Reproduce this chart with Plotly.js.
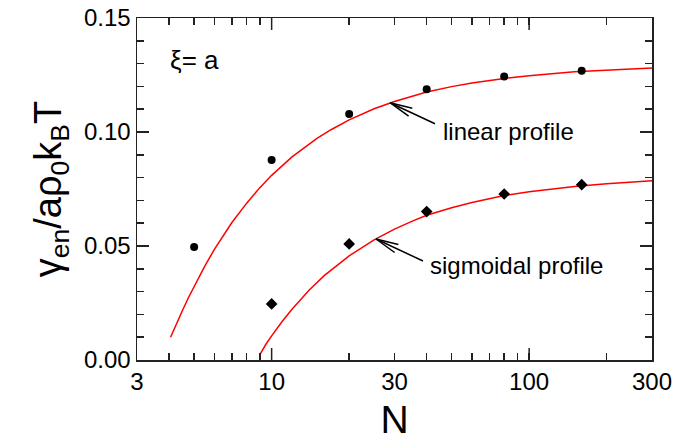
<!DOCTYPE html>
<html>
<head>
<meta charset="utf-8">
<script src="https://cdn.plot.ly/plotly-3.0.1.min.js"></script>
<style>html,body{margin:0;padding:0;background:#fff;}#chart{width:679px;height:441px;}</style>
</head>
<body>
<div id="chart"></div>
<script>
// Simulation points
var nLinear = [5, 10, 20, 40, 80, 160];
var gLinear = [0.0496, 0.0877, 0.1079, 0.1187, 0.1243, 0.1269];
var nSigmoid = [10, 20, 40, 80, 160];
var gSigmoid = [0.0246, 0.0509, 0.0651, 0.0728, 0.0769];

// Fitted curves
var nFitLinear = [4.05, 4.25, 4.5, 4.75, 5, 5.5, 6, 6.5, 7, 8, 9, 10, 12, 15, 17, 20, 25, 30, 40, 50, 60, 80, 100, 150, 200, 300];
var gFitLinear = [0.0100, 0.0155, 0.0216, 0.0273, 0.0324, 0.0412, 0.0486, 0.0548, 0.0602, 0.0688, 0.0756, 0.0810, 0.0891, 0.0972, 0.1010, 0.1053, 0.1102, 0.1134, 0.1175, 0.1199, 0.1215, 0.1235, 0.1247, 0.1264, 0.1272, 0.1281];
var nFitSigmoid = [9, 9.25, 9.5, 10, 10.5, 11, 12, 13, 14, 16, 18, 20, 25, 30, 35, 40, 50, 60, 80, 100, 150, 200, 300];
var gFitSigmoid = [0.0024, 0.0049, 0.0069, 0.0106, 0.0140, 0.0170, 0.0223, 0.0268, 0.0307, 0.0370, 0.0418, 0.0457, 0.0527, 0.0574, 0.0608, 0.0635, 0.0668, 0.0691, 0.0721, 0.0738, 0.0761, 0.0773, 0.0786];

// Axis ticks
var xTickVals = [3, 10, 30, 100, 300];
var xTickText = ['3', '10', '30', '100', '300'];
var xMinorVals = [4, 5, 6, 7, 8, 9, 20, 40, 50, 60, 70, 80, 90, 200];
var xLongTicks = [10, 100];
var yTickVals = [0, 0.05, 0.10, 0.15];

var FONT = 'Liberation Sans, Arial, Helvetica, sans-serif';
var AX = '#222';
var PW = 515, PH = 342; // plot area size in px, for arrow geometry

var traces = [
  {x: nFitLinear, y: gFitLinear, mode: 'lines', line: {color: '#ff0000', width: 1.5}, hoverinfo: 'skip'},
  {x: nFitSigmoid, y: gFitSigmoid, mode: 'lines', line: {color: '#ff0000', width: 1.5}, hoverinfo: 'skip'},
  {x: nLinear, y: gLinear, mode: 'markers', marker: {symbol: 'circle', size: 8, color: '#000'}},
  {x: nSigmoid, y: gSigmoid, mode: 'markers', marker: {symbol: 'diamond', size: 9, color: '#000'}}
];

var shapes = [];
xLongTicks.forEach(function (v) {
  shapes.push({type: 'line', xref: 'x', yref: 'paper', ysizemode: 'pixel', yanchor: 0, x0: v, x1: v, y0: 0, y1: 12, line: {color: AX, width: 1.5}});
  shapes.push({type: 'line', xref: 'x', yref: 'paper', ysizemode: 'pixel', yanchor: 1, x0: v, x1: v, y0: 0, y1: -12, line: {color: AX, width: 1.5}});
});

// arrow: tip in paper coords, offsets in px (right, down)
function arrowShapes(x, y, dx, dy) {
  var segs = [[dx, dy], [22.3, 5.5], [18.6, 13.5]];
  segs.forEach(function (s) {
    shapes.push({type: 'line', xref: 'paper', yref: 'paper', x0: x, y0: y, x1: x + s[0] / PW, y1: y - s[1] / PH,
                 line: {color: '#000', width: 1.5}});
  });
}
arrowShapes(0.4913, 0.7523, 45, 21);
arrowShapes(0.4641, 0.3538, 47, 22);

var annotations = [
  {xref: 'paper', yref: 'paper', x: 0.060, y: 0.877, xanchor: 'left', yanchor: 'middle', showarrow: false,
   text: 'ξ= a', font: {family: FONT, size: 26, color: '#000'}},
  {xref: 'paper', yref: 'paper', x: 0.590, y: 0.667, xanchor: 'left', yanchor: 'middle', showarrow: false,
   text: 'linear profile', font: {family: FONT, size: 24, color: '#000'}},
  {xref: 'paper', yref: 'paper', x: 0.565, y: 0.275, xanchor: 'left', yanchor: 'middle', showarrow: false,
   text: 'sigmoidal profile', font: {family: FONT, size: 24, color: '#000'}}
];

var layout = {
  width: 679, height: 441,
  margin: {l: 137, r: 27, t: 18, b: 81},
  paper_bgcolor: '#fff', plot_bgcolor: '#fff',
  showlegend: false,
  font: {family: FONT, size: 24, color: '#000'},
  xaxis: {
    type: 'log', range: [Math.log10(3), Math.log10(300)],
    tickmode: 'array', tickvals: xTickVals, ticktext: xTickText,
    ticks: 'inside', ticklen: 7, tickwidth: 1.5, tickcolor: AX,
    minor: {tickmode: 'array', tickvals: xMinorVals, ticks: 'inside', ticklen: 7, tickwidth: 1.5, tickcolor: AX, showgrid: false},
    showline: true, linecolor: AX, linewidth: 1.5, mirror: 'ticks',
    showgrid: false, zeroline: false,
    tickfont: {family: FONT, size: 24, color: '#000'},
    title: {text: 'N', font: {family: FONT, size: 39, color: '#000'}, standoff: 23}
  },
  yaxis: {
    range: [0, 0.15],
    tickmode: 'array', tickvals: yTickVals, tickformat: '.2f',
    ticks: 'inside', ticklen: 12, tickwidth: 1.5, tickcolor: AX,
    minor: {dtick: 0.01, ticks: 'inside', ticklen: 7, tickwidth: 1.5, tickcolor: AX, showgrid: false},
    showline: true, linecolor: AX, linewidth: 1.5, mirror: 'ticks',
    showgrid: false, zeroline: false,
    tickfont: {family: FONT, size: 24, color: '#000'},
    title: {text: 'γ<sub>en</sub>/aρ<sub>0</sub>k<sub>B</sub>T', font: {family: FONT, size: 38, color: '#000'}, standoff: 10}
  },
  shapes: shapes,
  annotations: annotations
};

Plotly.newPlot('chart', traces, layout, {displayModeBar: false, staticPlot: true});
</script>
</body>
</html>
